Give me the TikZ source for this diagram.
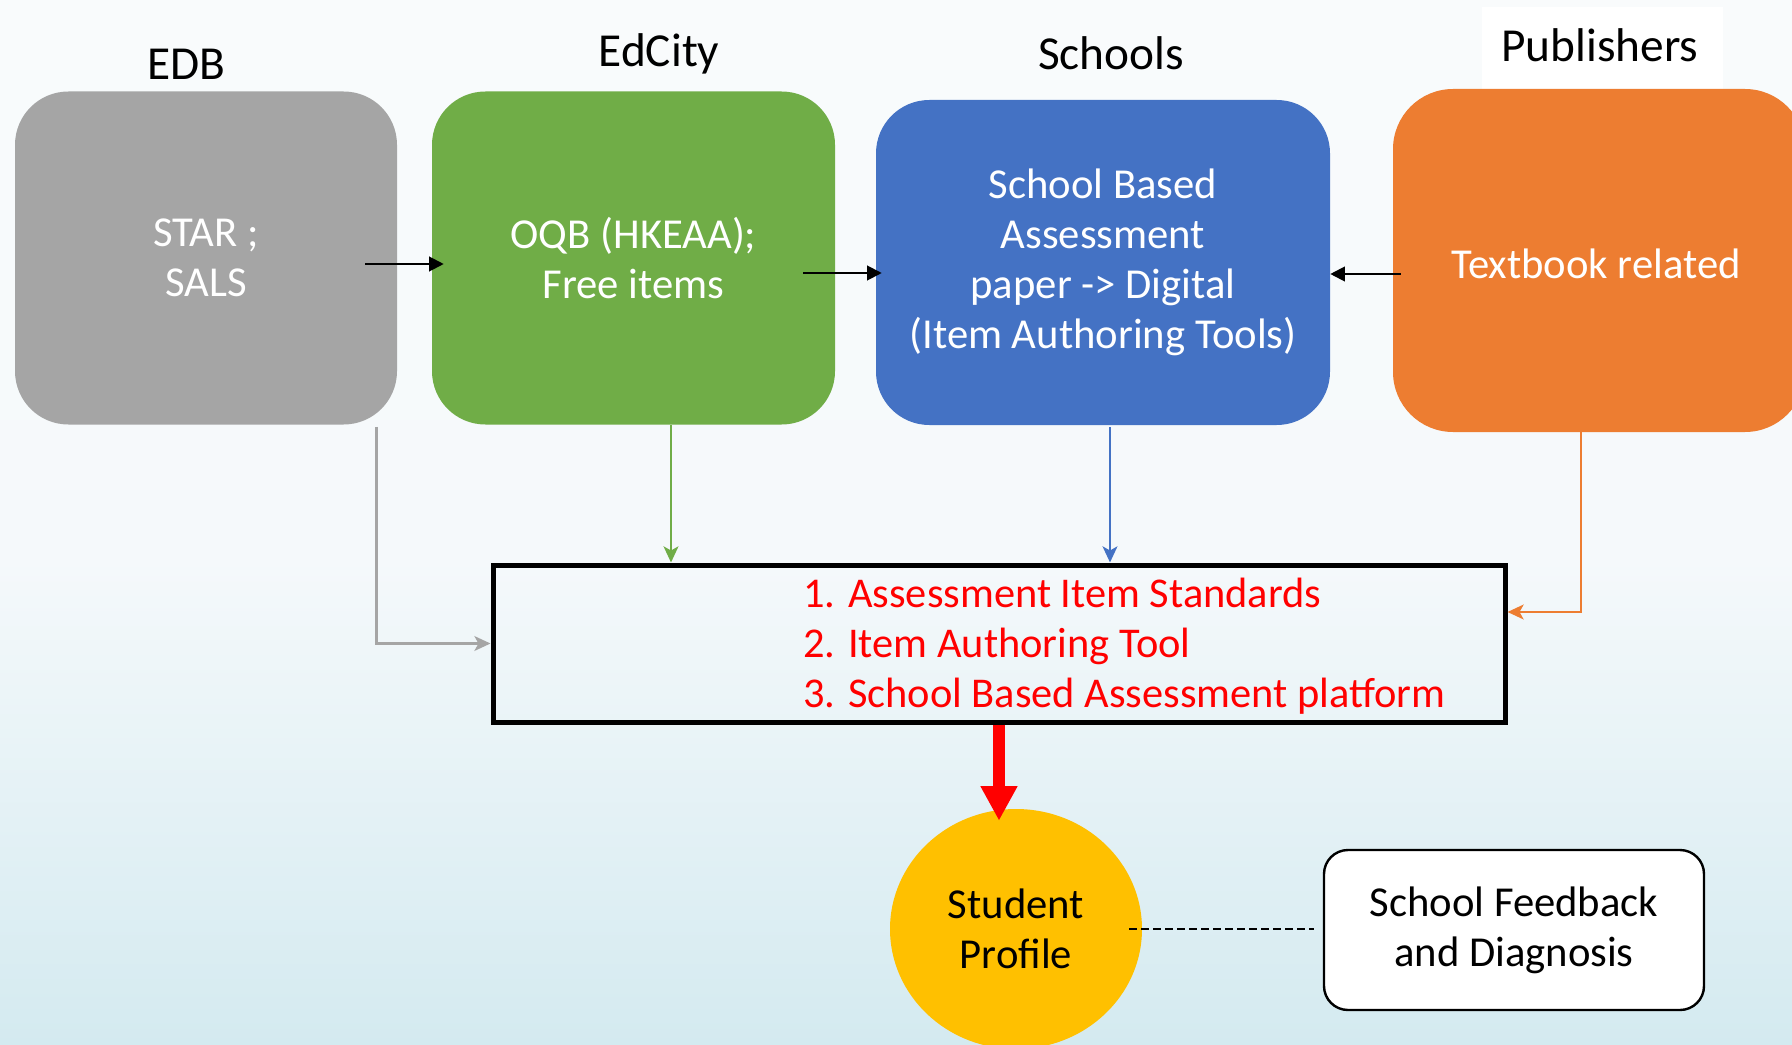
\documentclass[tikz,border=0pt]{standalone}
\usepackage{fontspec}
\setmainfont{Carlito}
\usetikzlibrary{arrows.meta,calc,shapes.geometric}
\definecolor{cgray}{HTML}{A5A5A5}
\definecolor{cgreen}{HTML}{70AD47}
\definecolor{cblue}{HTML}{4472C4}
\definecolor{corange}{HTML}{ED7D31}
\definecolor{cyellow}{HTML}{FFC000}
\definecolor{cred}{HTML}{FF0000}
\definecolor{bgtop}{RGB}{249,251,252}
\definecolor{bgmid}{RGB}{245,249,251}
\definecolor{bgbot}{RGB}{212,234,240}
\tikzset{
  header/.style={anchor=base, text=black, font=\fontsize{35.5pt}{42pt}\selectfont, inner sep=0pt},
  srcbox/.style={rectangle, rounded corners=40pt, inner sep=0pt, text=white, align=center,
    font=\fontsize{32pt}{37.5pt}\selectfont},
  redline/.style={anchor=base west, text=cred, inner sep=0pt, font=\fontsize{31.8pt}{37.5pt}\selectfont},
  thinarrow/.style={line width=1.5pt, -{Triangle[length=11pt,width=11pt]}},
  colarrow/.style={line width=2.2pt, -{Stealth[length=12pt,width=11pt,inset=3pt]}},
}
\begin{document}
\begin{tikzpicture}[x=0.75pt,y=-0.75pt]
\useasboundingbox (0,0) rectangle (1792,1045);
\clip (0,0) rectangle (1792,1045);
\shade[top color=bgtop, bottom color=bgmid] (0,0) rectangle (1792,560);
\shade[top color=bgmid, bottom color=bgbot] (0,559) rectangle (1792,1045);
\fill[white] (1482,7) rectangle (1723,89);

% headers
\node[header] (hedb) at (186,80) {EDB};
\node[header] (hedc) at (659,67) {EdCity};
\node[header] (hsch) at (1111,70) {Schools};
\node[header] (hpub) at (1600,62) {Publishers};

% source boxes
\node[srcbox, fill=cgray, minimum width=286.5pt, minimum height=249.75pt] (edb) at (206,258) {STAR ;\\SALS};
\node[srcbox, fill=cgreen, minimum width=302.25pt, minimum height=249.75pt] (edcity) at (633.5,258) {OQB (HKEAA);\\Free items};
\node[srcbox, fill=cblue, minimum width=340.5pt, minimum height=243.75pt] (schools) at (1103,262.5) {School Based\\Assessment\\paper -> Digital\\(Item Authoring Tools)};
\node[srcbox, fill=corange, minimum width=309pt, minimum height=257.25pt, rounded corners=45pt] (pub) at (1599,260.5) {};
\node[text=white, inner sep=0pt, font=\fontsize{32pt}{37.5pt}\selectfont] (pubtext) at (1596,264) {Textbook related};

% central box
\node[draw=black, line width=3.75pt, rectangle, minimum width=759pt, minimum height=117.75pt, inner sep=0pt] (sba) at (999,643.5) {};
\node[redline] (l1) at (803,607) {1. Assessment Item Standards};
\node[redline] (l2) at (803,657) {2. Item Authoring Tool};
\node[redline] (l3) at (803,707) {3. School Based Assessment platform};

% student profile
\node[ellipse, fill=cyellow, minimum width=189pt, minimum height=180pt, inner sep=0pt, align=center,
  font=\fontsize{32pt}{37.5pt}\selectfont] (sp) at (1016,929) {Student\\Profile};
\node[draw=black, line width=1.8pt, fill=white, rectangle, rounded corners=18pt, minimum width=285pt,
  minimum height=120pt, inner sep=0pt, align=center, font=\fontsize{32pt}{37.5pt}\selectfont] (fb) at (1514,930) {School Feedback\\and Diagnosis};

% horizontal black arrows
\draw[thinarrow] ($(edb.east)+(-32,6)$) -- ($(edcity.west)+(12,6)$);
\draw[thinarrow] ($(edcity.east)+(-32,15)$) -- ($(schools.west)+(6,10.5)$);
\draw[thinarrow] ($(pub.west)+(8,13.5)$) -- ($(schools.east)+(0,11.5)$);

% coloured arrows to central box
\coordinate (gs) at ($(edb.south east)+(-21,2)$);
\draw[colarrow, draw=cgray, color=cgray] (gs) |- (sba.west);
\coordinate (grs) at ($(edcity.south)+(37.5,0)$);
\draw[colarrow, draw=cgreen, color=cgreen] (grs) -- (grs |- sba.north);
\coordinate (bs) at ($(schools.south)+(7,2)$);
\draw[colarrow, draw=cblue, color=cblue] (bs) -- (bs |- sba.north);
\coordinate (os) at ($(pub.south)+(-18,0)$);
\draw[colarrow, draw=corange, color=corange] (os) |- ($(sba.east)+(0,-31.5)$);

% red arrow
\coordinate (rt) at ($(sp.north)+(0,12)$);
\draw[line width=9pt, draw=cred, color=cred, -{Triangle[length=26pt,width=26pt]}] (sba.south) -- (sba.south |- rt);

% dashed connector
\draw[line width=1.5pt, dash pattern=on 6pt off 3pt] ($(sp.east)+(-13,0)$) -- ($(fb.west)+(-9,-1)$);
\end{tikzpicture}
\end{document}
